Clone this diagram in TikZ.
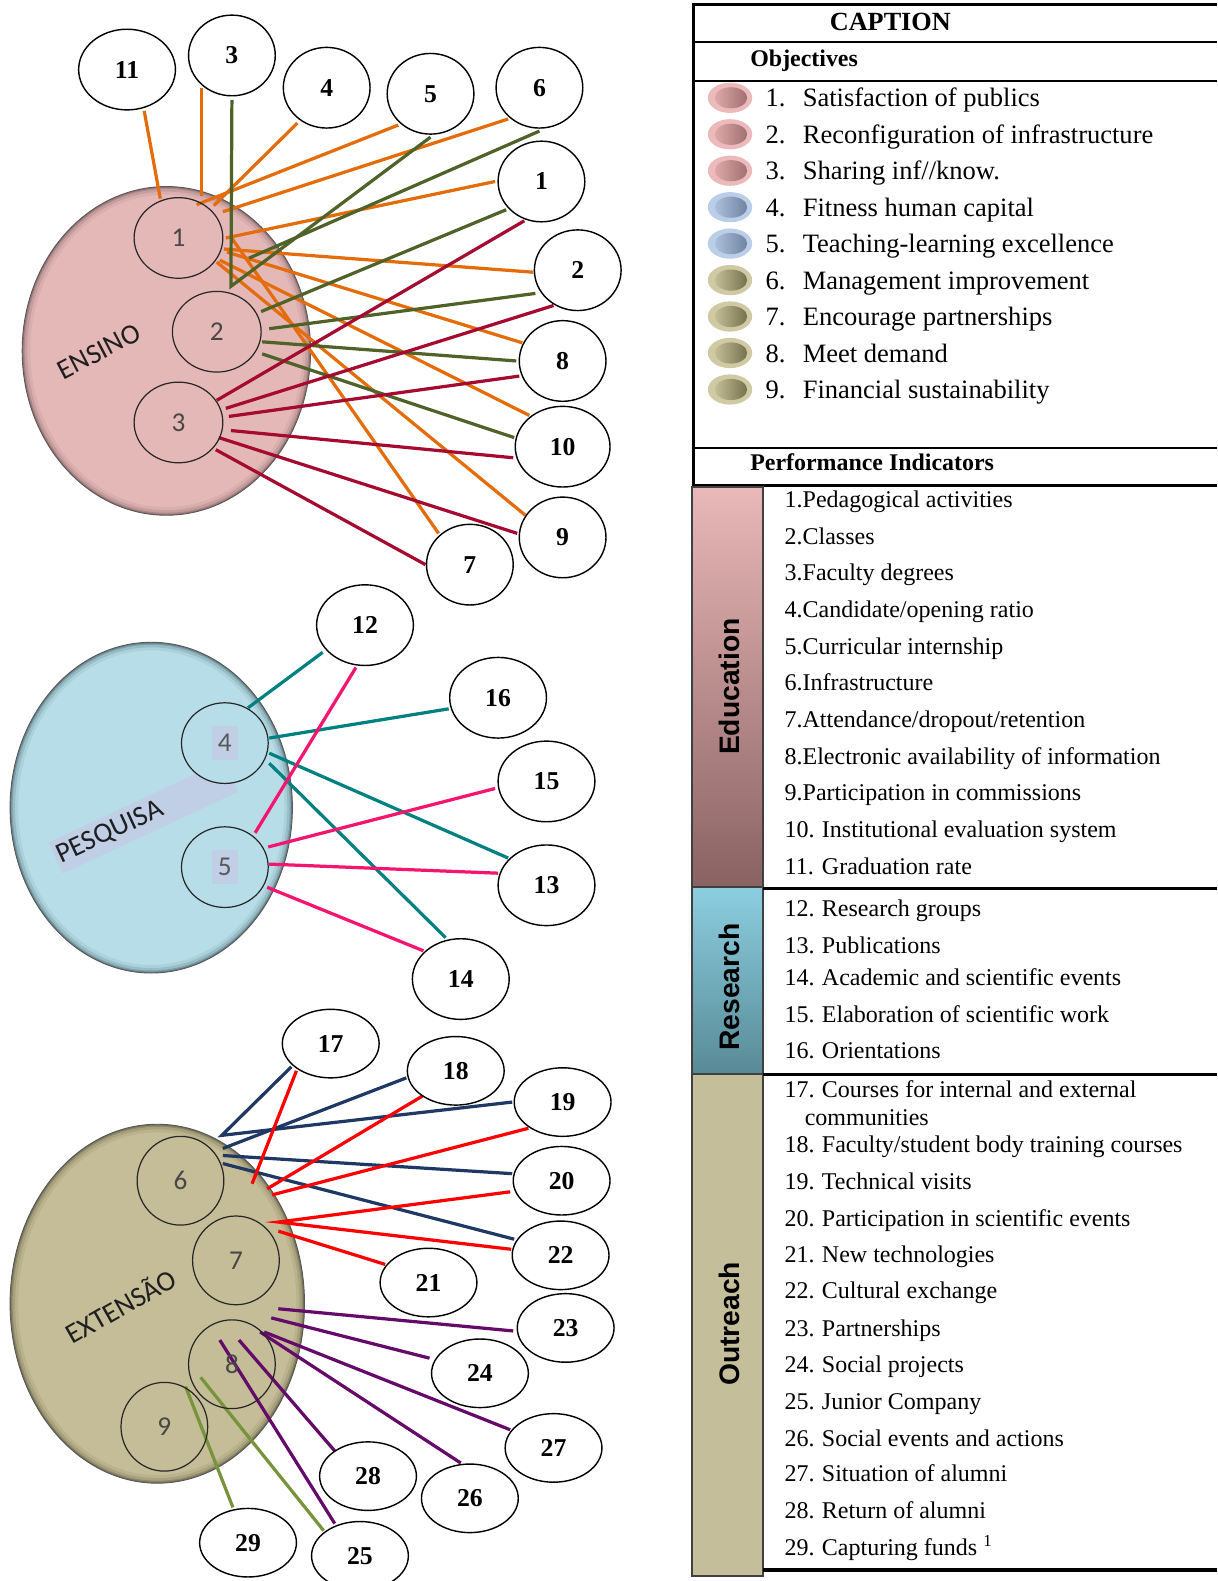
\documentclass[tikz,border=0pt]{standalone}
\usepackage{fontspec}
\setmainfont{Liberation Serif}
\newfontfamily\catfont{Liberation Sans}
\newfontfamily\calfont{Carlito}
\usetikzlibrary{calc,shapes.geometric}

\newcommand{\fsz}[1]{\fontsize{#1}{#1}\selectfont}

% link colours
\definecolor{orangeL}{RGB}{228,108,10}
\definecolor{greenL}{RGB}{79,98,40}
\definecolor{crimsonL}{RGB}{165,10,48}
\definecolor{tealL}{RGB}{0,128,128}
\definecolor{pinkL}{RGB}{245,20,110}
\definecolor{navyL}{RGB}{31,56,100}
\definecolor{redL}{RGB}{255,0,0}
\definecolor{purpleL}{RGB}{100,10,105}
\definecolor{oliveL}{RGB}{119,147,60}

% area ellipses
\definecolor{ensfill}{RGB}{229,184,184}
\definecolor{ensrim}{RGB}{120,90,90}
\definecolor{pesfill}{RGB}{183,222,232}
\definecolor{pesrim}{RGB}{70,95,105}
\definecolor{extfill}{RGB}{196,189,151}
\definecolor{extrim}{RGB}{90,86,60}
\definecolor{bandc}{RGB}{192,206,230}

% legend markers
\definecolor{pko}{RGB}{236,186,186}
\definecolor{pkl}{RGB}{222,168,168}
\definecolor{pkd}{RGB}{160,112,112}
\definecolor{blo}{RGB}{186,206,232}
\definecolor{bll}{RGB}{172,192,218}
\definecolor{bld}{RGB}{112,132,162}
\definecolor{kho}{RGB}{208,202,164}
\definecolor{khl}{RGB}{196,190,150}
\definecolor{khd}{RGB}{118,113,78}

% category bars
\definecolor{edutop}{RGB}{233,184,184}
\definecolor{edubot}{RGB}{138,98,98}
\definecolor{restop}{RGB}{140,206,224}
\definecolor{resbot}{RGB}{88,138,150}
\definecolor{outfill}{RGB}{196,190,154}

\pgfdeclarelayer{back}
\pgfdeclarelayer{links}
\pgfsetlayers{back,links,main}

% an area ellipse with a darkened bevelled rim: centre, x radius, y radius, fill, rim
\newcommand{\areadisc}[5]{%
  \fill[#4] #1 ellipse [x radius=#2, y radius=#3];
  \begin{scope}
    \clip #1 ellipse [x radius=#2, y radius=#3];
    \draw[#5, line width=16pt, opacity=0.10] #1 ellipse [x radius=#2, y radius=#3];
    \draw[#5, line width=10pt, opacity=0.18] #1 ellipse [x radius=#2, y radius=#3];
    \draw[#5, line width=5pt, opacity=0.30] #1 ellipse [x radius=#2, y radius=#3];
    \draw[#5, line width=2.5pt, opacity=0.45] #1 ellipse [x radius=#2, y radius=#3];
  \end{scope}
  \draw[black!65, line width=0.9pt] #1 ellipse [x radius=#2, y radius=#3];}

% one objective row of the legend: index, baseline, marker family, text
\newcommand{\objrow}[4]{%
  \fill[#3o] (724,#2-9) ellipse [x radius=22pt, y radius=15pt];
  \shade[left color=#3l, right color=#3d] (725,#2-9) ellipse [x radius=16pt, y radius=10.5pt];
  \node[objtxt] (on#1) at (759,#2) {#1.};
  \node[objtxt] (ot#1) at (796,#2) {#4};}
% one numbered indicator row: number, baseline, text
\newcommand{\pirow}[3]{%
  \node[pitxt] (pn#1) at (778,#2) {#1.};
  \node[pitxt] (pt#1) at (815,#2) {#3};}

\begin{document}
\begin{tikzpicture}[x=1pt,y=-1pt,
  objc/.style={ellipse, draw=black!85, line width=1.2pt, inner sep=0pt,
    font=\calfont\fsz{27}, text=black!72, minimum width=88pt, minimum height=80pt},
  indc/.style={ellipse, draw=black, fill=white, line width=1.4pt, inner sep=0pt,
    font=\bfseries\fsz{25.5}, minimum width=86pt, minimum height=80pt},
  wideind/.style={minimum width=96pt},
  flatind/.style={minimum width=96pt, minimum height=68pt},
  lnk/.style={line width=3.2pt},
  arealabel/.style={font=\calfont\fsz{28}, text=black!88, inner sep=0pt, anchor=base west},
  hl/.style={fill=bandc, inner sep=0pt, minimum width=26pt, minimum height=34pt,
    font=\calfont\fsz{27}, text=black!65},
  objtxt/.style={font=\fsz{26.3}, inner sep=0pt, anchor=base west},
  pitxt/.style={font=\fsz{23.8}, inner sep=0pt, anchor=base west},
  headtxt/.style={font=\bfseries\fsz{23.7}, inner sep=0pt, anchor=base west},
  cattxt/.style={font=\catfont\bfseries\fsz{28}, rotate=90, inner sep=0pt},
  rule/.style={line width=2pt}
]
\useasboundingbox (0,0) rectangle (1207,1568);

% ---------- area ellipses ----------
\begin{pgfonlayer}{back}
  \areadisc{(165,348)}{143pt}{163pt}{ensfill}{ensrim}
  \areadisc{(150,801)}{140pt}{164pt}{pesfill}{pesrim}
  \areadisc{(156,1293)}{146pt}{178pt}{extfill}{extrim}
\end{pgfonlayer}

% ---------- ENSINO ----------
\node[arealabel, rotate=27.5] (ens) at (63,377) {ENSINO};
\node[objc] (i1) at (177,236) {1};
\node[objc] (i2) at (215,329) {2};
\node[objc] (i3) at (177,419) {3};

\node[indc, wideind] (e11) at (126,69) {11};
\node[indc] (e3) at (230,55) {3};
\node[indc] (e4) at (324,87) {4};
\node[indc] (e5) at (427,93) {5};
\node[indc] (e6) at (535,87) {6};
\node[indc] (e1) at (537,180) {1};
\node[indc] (e2) at (573,268) {2};
\node[indc] (e8) at (558,358) {8};
\node[indc, minimum width=94pt] (e10) at (558,443) {10};
\node[indc] (e9) at (558,533) {9};
\node[indc] (e7) at (466,560) {7};

\begin{pgfonlayer}{links}
  % objective 1
  \draw[lnk, orangeL] ($(i1)+(-18,-39)$) -- ($(e11)+(17,41)$);
  \draw[lnk, orangeL] ($(i1)+(23,-42)$) -- ($(e3)+(-30,32)$);
  \draw[lnk, orangeL] ($(i1)+(35,-32)$) -- ($(e4)+(-29,35)$);
  \draw[lnk, orangeL] ($(i1)+(18,-33)$) -- ($(e5)+(-32,31)$);
  \draw[lnk, orangeL] ($(i1)+(44,-26)$) -- ($(e6)+(-31,31)$);
  \draw[lnk, orangeL] ($(i1)+(47,0)$) -- ($(e1)+(-46,0)$);
  \draw[lnk, orangeL] ($(i1)+(45,11)$) -- ($(e2)+(-44,2)$);
  \draw[lnk, orangeL] ($(i1)+(48,14)$) -- ($(e8)+(-40,-18)$);
  \draw[lnk, orangeL] ($(i1)+(41,22)$) -- ($(e10)+(-33,-31)$);
  \draw[lnk, orangeL] ($(i1)+(38,24)$) -- ($(e9)+(-37,-22)$);
  \draw[lnk, orangeL] ($(i1)+(52,-1)$) -- ($(e7)+(-31,-31)$);
  % objective 2
  \draw[lnk, greenL] ($(e3)+(0,44)$) -- ($(i2)+(14,-45)$) -- ($(e5)+(0,43)$);
  \draw[lnk, greenL] ($(i2)+(32,-73)$) -- ($(e6)+(0,43)$);
  \draw[lnk, greenL] ($(i2)+(44,-20)$) -- ($(e1)+(-35,28)$);
  \draw[lnk, greenL] ($(i2)+(52,-3)$) -- ($(e2)+(-42,23)$);
  \draw[lnk, greenL] ($(i2)+(45,10)$) -- ($(e8)+(-46,0)$);
  \draw[lnk, greenL] ($(i2)+(45,22)$) -- ($(e10)+(-48,-9)$);
  % objective 3
  \draw[lnk, crimsonL] ($(i3)+(38,-22)$) -- ($(e1)+(-17,39)$);
  \draw[lnk, crimsonL] ($(i3)+(47,-14)$) -- ($(e2)+(-24,35)$);
  \draw[lnk, crimsonL] ($(i3)+(50,-6)$) -- ($(e8)+(-43,15)$);
  \draw[lnk, crimsonL] ($(i3)+(52,8)$) -- ($(e10)+(-49,11)$);
  \draw[lnk, crimsonL] ($(i3)+(40,15)$) -- ($(e9)+(-45,-4)$);
  \draw[lnk, crimsonL] ($(i3)+(37,27)$) -- ($(e7)+(-44,0)$);
\end{pgfonlayer}

% ---------- PESQUISA ----------
\node[fill=bandc, rotate=25, anchor=west, font=\calfont\fsz{28}, text=black!88,
  inner xsep=3pt, inner ysep=0pt, minimum height=34pt, text width=186pt, align=left]
  (pes) at (55,851) {PESQUISA};
\node[objc, fill=pesfill, minimum width=86pt] (i4) at (223,737) {};
\node[hl] (h4) at (i4) {4};
\node[objc, fill=pesfill, minimum width=86pt] (i5) at (223,860) {};
\node[hl] (h5) at (i5) {5};

\node[indc, wideind] (p12) at (362,620) {12};
\node[indc, wideind] (p16) at (494,692) {16};
\node[indc, wideind] (p15) at (542,775) {15};
\node[indc, wideind] (p13) at (542,878) {13};
\node[indc, wideind] (p14) at (457,971) {14};

\begin{pgfonlayer}{links}
  \draw[lnk, tealL] ($(i4)+(23,-35)$) -- ($(p12)+(-42,27)$);
  \draw[lnk, tealL] ($(i4)+(44,-5)$) -- ($(p16)+(-49,11)$);
  \draw[lnk, tealL] ($(i4)+(44,10)$) -- ($(p13)+(-38,-27)$);
  \draw[lnk, tealL] ($(i4)+(44,20)$) -- ($(p14)+(-15,-41)$);
  \draw[lnk, pinkL] ($(i5)+(30,-34)$) -- ($(p12)+(-9,42)$);
  \draw[lnk, pinkL] ($(i5)+(43,-20)$) -- ($(p15)+(-51,7)$);
  \draw[lnk, pinkL] ($(i5)+(44,-3)$) -- ($(p13)+(-48,-12)$);
  \draw[lnk, pinkL] ($(i5)+(42,20)$) -- ($(p14)+(-37,-28)$);
\end{pgfonlayer}

% ---------- EXTENSAO ----------
\node[arealabel, rotate=29.6] (ext) at (72,1334) {EXTENSÃO};
\node[objc, minimum width=86pt, minimum height=88pt] (i6) at (179,1171) {6};
\node[objc, minimum width=86pt, minimum height=88pt] (i7) at (234,1250) {7};
\node[objc, minimum width=86pt, minimum height=88pt] (i8) at (230,1353) {8};
\node[objc, minimum width=86pt, minimum height=88pt] (i9) at (163,1415) {9};

\node[indc, flatind] (x17) at (328,1035) {17};
\node[indc, flatind] (x18) at (452,1062) {18};
\node[indc, flatind] (x19) at (558,1093) {19};
\node[indc, flatind] (x20) at (557,1171) {20};
\node[indc, flatind] (x22) at (556,1245) {22};
\node[indc, flatind] (x21) at (425,1272) {21};
\node[indc, flatind] (x23) at (561,1317) {23};
\node[indc, flatind] (x24) at (476,1362) {24};
\node[indc, flatind] (x27) at (549,1436) {27};
\node[indc, flatind] (x26) at (466,1486) {26};
\node[indc, flatind] (x28) at (365,1464) {28};
\node[indc, flatind] (x29) at (246,1530) {29};
\node[indc, flatind] (x25) at (357,1543) {25};

\begin{pgfonlayer}{links}
  % objective 6
  \draw[lnk, navyL] ($(x17)+(-39,23)$) -- ($(i6)+(41,-45)$) -- ($(x19)+(-50,0)$);
  \draw[lnk, navyL] ($(i6)+(42,-32)$) -- ($(x18)+(-49,7)$);
  \draw[lnk, navyL] ($(i6)+(42,-25)$) -- ($(x20)+(-49,-7)$);
  \draw[lnk, navyL] ($(i6)+(42,-17)$) -- ($(x22)+(-46,-16)$);
  % objective 7
  \draw[lnk, redL] ($(i7)+(16,-76)$) -- ($(x17)+(-34,27)$);
  \draw[lnk, redL] ($(i7)+(31,-71)$) -- ($(x18)+(-33,25)$);
  \draw[lnk, redL] ($(i7)+(36,-65)$) -- ($(x19)+(-34,26)$);
  \draw[lnk, redL] ($(x20)+(-51,11)$) -- ($(i7)+(42,-38)$) -- ($(x22)+(-49,-6)$);
  \draw[lnk, redL] ($(i7)+(42,-29)$) -- ($(x21)+(-43,-18)$);
  % objective 8
  \draw[lnk, purpleL] ($(i8)+(46,-55)$) -- ($(x23)+(-52,3)$);
  \draw[lnk, purpleL] ($(i8)+(39,-46)$) -- ($(x24)+(-50,-15)$);
  \draw[lnk, purpleL] ($(i8)+(32,-32)$) -- ($(x27)+(-43,-18)$);
  \draw[lnk, purpleL] ($(i8)+(28,-32)$) -- ($(x26)+(-9,-35)$);
  \draw[lnk, purpleL] ($(i8)+(7,-24)$) -- ($(x28)+(-33,-25)$);
  \draw[lnk, purpleL] ($(i8)+(-12,-24)$) -- ($(x25)+(-25,-32)$);
  % objective 9
  \draw[lnk, oliveL] ($(i9)+(21,-40)$) -- ($(x29)+(-15,-35)$);
  \draw[lnk, oliveL] ($(i9)+(36,-49)$) -- ($(x25)+(-36,-25)$);
\end{pgfonlayer}

% ---------- caption table ----------
\draw[line width=3pt] (686.5,4) -- (1207,4);
\draw[line width=3pt] (688,2.5) -- (688,482);
\draw[rule] (688,42) -- (1207,42);
\draw[rule] (688,80) -- (1207,80);
\draw[rule] (688,444) -- (1207,444);
\draw[line width=2.5pt] (688,481.5) -- (1207,481.5);

\node[font=\bfseries\fsz{26}, inner sep=0pt, anchor=base] (capt) at (883,30.5) {CAPTION};
\node[headtxt] (objh) at (744,65.5) {Objectives};
\node[headtxt] (pih) at (744,466.5) {Performance Indicators};

\objrow{1}{106}{pk}{Satisfaction of publics}
\objrow{2}{142.2}{pk}{Reconfiguration of infrastructure}
\objrow{3}{178.3}{pk}{Sharing inf//know.}
\objrow{4}{214.5}{bl}{Fitness human capital}
\objrow{5}{250.6}{bl}{Teaching-learning excellence}
\objrow{6}{286.8}{kh}{Management improvement}
\objrow{7}{322.9}{kh}{Encourage partnerships}
\objrow{8}{359.1}{kh}{Meet demand}
\objrow{9}{395.3}{kh}{Financial sustainability}

% category bars
\shade[top color=edutop, bottom color=edubot] (686,483) rectangle (757,880);
\draw[line width=2pt, black!75] (686,483) rectangle (757,880);
\shade[top color=restop, bottom color=resbot] (686,880) rectangle (757,1065);
\draw[line width=2pt, black!75] (686,880) rectangle (757,1065);
\fill[outfill] (686,1065) rectangle (757,1563);
\draw[line width=2pt, black!75] (686,1065) rectangle (757,1563);
\draw[line width=3pt] (757,881) -- (1207,881);
\draw[line width=3pt] (757,1065.5) -- (1207,1065.5);
\draw[line width=3.5pt] (757,1557) -- (1207,1557);

\node[cattxt] (cate) at (723,681) {Education};
\node[cattxt] (catr) at (723,979) {Research};
\node[cattxt] (cato) at (723,1313) {Outreach};

% indicators
\node[pitxt] (pt1) at (778,503.4) {1.Pedagogical activities};
\node[pitxt] (pt2) at (778,539.8) {2.Classes};
\node[pitxt] (pt3) at (778,576.1) {3.Faculty degrees};
\node[pitxt] (pt4) at (778,612.5) {4.Candidate/opening ratio};
\node[pitxt] (pt5) at (778,648.8) {5.Curricular internship};
\node[pitxt] (pt6) at (778,685.2) {6.Infrastructure};
\node[pitxt] (pt7) at (778,721.6) {7.Attendance/dropout/retention};
\node[pitxt] (pt8) at (778,757.9) {8.Electronic availability of information};
\node[pitxt] (pt9) at (778,794.3) {9.Participation in commissions};
\pirow{10}{830.6}{Institutional evaluation system}
\pirow{11}{867}{Graduation rate}
\pirow{12}{908.8}{Research groups}
\pirow{13}{946}{Publications}
\pirow{14}{977.8}{Academic and scientific events}
\pirow{15}{1014.3}{Elaboration of scientific work}
\pirow{16}{1049.9}{Orientations}
\pirow{17}{1088.3}{Courses for internal and external}
\node[pitxt] (pt17b) at (798,1115.8) {communities};
\pirow{18}{1143.2}{Faculty/student body training courses}
\pirow{19}{1179.6}{Technical visits}
\pirow{20}{1216}{Participation in scientific events}
\pirow{21}{1252.3}{New technologies}
\pirow{22}{1287.7}{Cultural exchange}
\pirow{23}{1325}{Partnerships}
\pirow{24}{1361.4}{Social projects}
\pirow{25}{1397.8}{Junior Company}
\pirow{26}{1434.1}{Social events and actions}
\pirow{27}{1469.5}{Situation of alumni}
\pirow{28}{1505.9}{Return of alumni}
\pirow{29}{1542.3}{Capturing funds \textsuperscript{1}}
\end{tikzpicture}
\end{document}
